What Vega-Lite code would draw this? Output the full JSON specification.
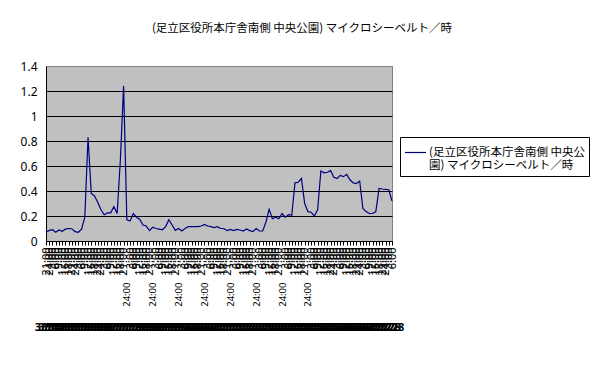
{
  "$schema": "https://vega.github.io/schema/vega-lite/v6.json",
  "width": 346,
  "height": 175,
  "autosize": {"type": "none"},
  "padding": {"left": 46, "top": 66, "right": 212, "bottom": 127},
  "background": "white",
  "title": {
    "text": "(足立区役所本庁舎南側 中央公園) マイクロシーベルト／時",
    "fontSize": 11.5,
    "font": "Noto Sans CJK JP",
    "fontWeight": "normal",
    "color": "black",
    "anchor": "middle",
    "dx": 83,
    "offset": 26
  },
  "data": {
    "values": [
      {"t": "3/14 21:00", "v": 0.07},
      {"t": "3/14 24:00", "v": 0.085},
      {"t": "3/15 3:00", "v": 0.09},
      {"t": "3/15 6:00", "v": 0.07},
      {"t": "3/15 9:00", "v": 0.088},
      {"t": "3/15 12:00", "v": 0.078},
      {"t": "3/15 15:00", "v": 0.095},
      {"t": "3/15 18:00", "v": 0.1},
      {"t": "3/15 21:00", "v": 0.098},
      {"t": "3/15 24:00", "v": 0.075},
      {"t": "3/16 3:00", "v": 0.07},
      {"t": "3/16 6:00", "v": 0.095},
      {"t": "3/16 9:00", "v": 0.19},
      {"t": "3/16 12:00", "v": 0.83},
      {"t": "3/16 15:00", "v": 0.38},
      {"t": "3/16 18:00", "v": 0.36},
      {"t": "3/16 21:00", "v": 0.31},
      {"t": "3/16 24:00", "v": 0.25},
      {"t": "3/17 3:00", "v": 0.21},
      {"t": "3/17 6:00", "v": 0.225},
      {"t": "3/17 9:00", "v": 0.225},
      {"t": "3/17 12:00", "v": 0.275},
      {"t": "3/17 15:00", "v": 0.22},
      {"t": "3/17 18:00", "v": 0.65},
      {"t": "3/17 21:00", "v": 1.24},
      {"t": "3/17 24:00", "v": 0.17},
      {"t": "3/18 3:00", "v": 0.16},
      {"t": "3/18 6:00", "v": 0.22},
      {"t": "3/18 9:00", "v": 0.19},
      {"t": "3/18 12:00", "v": 0.173},
      {"t": "3/18 15:00", "v": 0.128},
      {"t": "3/18 18:00", "v": 0.12},
      {"t": "3/18 21:00", "v": 0.083},
      {"t": "3/18 24:00", "v": 0.11},
      {"t": "3/19 3:00", "v": 0.1},
      {"t": "3/19 6:00", "v": 0.095},
      {"t": "3/19 9:00", "v": 0.09},
      {"t": "3/19 12:00", "v": 0.115},
      {"t": "3/19 15:00", "v": 0.17},
      {"t": "3/19 18:00", "v": 0.128},
      {"t": "3/19 21:00", "v": 0.085},
      {"t": "3/19 24:00", "v": 0.1},
      {"t": "3/20 3:00", "v": 0.08},
      {"t": "3/20 6:00", "v": 0.1},
      {"t": "3/20 9:00", "v": 0.115},
      {"t": "3/20 12:00", "v": 0.115},
      {"t": "3/20 15:00", "v": 0.115},
      {"t": "3/20 18:00", "v": 0.115},
      {"t": "3/20 21:00", "v": 0.12},
      {"t": "3/20 24:00", "v": 0.133},
      {"t": "3/21 3:00", "v": 0.12},
      {"t": "3/21 6:00", "v": 0.115},
      {"t": "3/21 9:00", "v": 0.107},
      {"t": "3/21 12:00", "v": 0.115},
      {"t": "3/21 15:00", "v": 0.1},
      {"t": "3/21 18:00", "v": 0.1},
      {"t": "3/21 21:00", "v": 0.083},
      {"t": "3/21 24:00", "v": 0.093},
      {"t": "3/22 3:00", "v": 0.083},
      {"t": "3/22 6:00", "v": 0.093},
      {"t": "3/22 9:00", "v": 0.088},
      {"t": "3/22 12:00", "v": 0.08},
      {"t": "3/22 15:00", "v": 0.096},
      {"t": "3/22 18:00", "v": 0.083},
      {"t": "3/22 21:00", "v": 0.075},
      {"t": "3/22 24:00", "v": 0.1},
      {"t": "3/23 3:00", "v": 0.08},
      {"t": "3/23 6:00", "v": 0.08},
      {"t": "3/23 9:00", "v": 0.15},
      {"t": "3/23 12:00", "v": 0.253},
      {"t": "3/23 15:00", "v": 0.178},
      {"t": "3/23 18:00", "v": 0.19},
      {"t": "3/23 21:00", "v": 0.178},
      {"t": "3/23 24:00", "v": 0.22},
      {"t": "3/24 3:00", "v": 0.19},
      {"t": "3/24 6:00", "v": 0.21},
      {"t": "3/24 9:00", "v": 0.205},
      {"t": "3/24 12:00", "v": 0.465},
      {"t": "3/24 15:00", "v": 0.47},
      {"t": "3/24 18:00", "v": 0.5},
      {"t": "3/24 21:00", "v": 0.3},
      {"t": "3/24 24:00", "v": 0.235},
      {"t": "3/25 3:00", "v": 0.23},
      {"t": "3/25 6:00", "v": 0.2},
      {"t": "3/25 9:00", "v": 0.25},
      {"t": "3/25 12:00", "v": 0.56},
      {"t": "3/25 15:00", "v": 0.545},
      {"t": "3/25 18:00", "v": 0.55},
      {"t": "3/25 21:00", "v": 0.563},
      {"t": "3/25 24:00", "v": 0.51},
      {"t": "3/26 3:00", "v": 0.5},
      {"t": "3/26 6:00", "v": 0.525},
      {"t": "3/26 9:00", "v": 0.515},
      {"t": "3/26 12:00", "v": 0.533},
      {"t": "3/26 15:00", "v": 0.49},
      {"t": "3/26 18:00", "v": 0.465},
      {"t": "3/26 21:00", "v": 0.46},
      {"t": "3/26 24:00", "v": 0.48},
      {"t": "3/27 3:00", "v": 0.26},
      {"t": "3/27 6:00", "v": 0.235},
      {"t": "3/27 9:00", "v": 0.22},
      {"t": "3/27 12:00", "v": 0.22},
      {"t": "3/27 15:00", "v": 0.235},
      {"t": "3/27 18:00", "v": 0.42},
      {"t": "3/27 21:00", "v": 0.416},
      {"t": "3/27 24:00", "v": 0.413},
      {"t": "3/28 3:00", "v": 0.41},
      {"t": "3/28 6:00", "v": 0.32}
    ]
  },
  "layer": [
    {
      "mark": {"type": "line", "color": "#000080", "strokeWidth": 1.2},
      "encoding": {
        "x": {
          "field": "t",
          "type": "ordinal",
          "sort": null,
          "scale": {"type": "point", "padding": 0},
          "axis": {
            "orient": "bottom",
            "title": null,
            "grid": false,
            "labelAngle": -90,
            "labelFontSize": {
              "condition": {
                "test": "indexof(['3/17 24:00','3/18 24:00','3/19 24:00','3/20 24:00','3/21 24:00','3/22 24:00','3/23 24:00','3/24 24:00'], datum.value) >= 0",
                "value": 9.5
              },
              "value": 11
            },
            "labelFont": "Noto Sans",
            "labelColor": "black",
            "labelOverlap": false,
            "labelExpr": "split(datum.value, ' ')[1]",
            "labelPadding": {
              "condition": {
                "test": "indexof(['3/17 24:00','3/18 24:00','3/19 24:00','3/20 24:00','3/21 24:00','3/22 24:00','3/23 24:00','3/24 24:00'], datum.value) >= 0",
                "value": 37
              },
              "value": 2
            },
            "tickColor": "black",
            "tickSize": 4,
            "domainColor": "black"
          }
        },
        "y": {
          "field": "v",
          "type": "quantitative",
          "scale": {"domain": [0, 1.4], "nice": false},
          "axis": {
            "title": null,
            "values": [0, 0.2, 0.4, 0.6, 0.8, 1, 1.2, 1.4],
            "format": "~g",
            "ticks": false,
            "labelPadding": 9,
            "labelFontSize": 12,
            "labelFont": "Noto Sans",
            "labelColor": "black",
            "domainColor": "black",
            "gridColor": {"condition": {"test": "datum.value >= 1.39", "value": "#808080"}, "value": "black"},
            "gridOpacity": 1,
            "gridWidth": 1
          }
        },
        "color": {
          "datum": "(足立区役所本庁舎南側 中央公園) マイクロシーベルト／時",
          "scale": {"range": ["#000080"]},
          "legend": {
            "orient": "none",
            "legendX": 354,
            "legendY": 71,
            "title": null,
            "strokeColor": "black",
            "fillColor": "white",
            "padding": 4,
            "labelFontSize": 11.5,
            "labelFont": "Noto Sans CJK JP",
            "labelColor": "black",
            "labelLimit": 400,
            "labelOffset": 2,
            "symbolType": "stroke",
            "symbolSize": 441,
            "symbolStrokeWidth": 1.2,
            "labelExpr": "['(足立区役所本庁舎南側 中央公', '園) マイクロシーベルト／時']"
          }
        }
      }
    },
    {
      "mark": {"type": "point", "opacity": 0},
      "encoding": {
        "x": {
          "field": "t",
          "type": "ordinal",
          "sort": null,
          "scale": {"type": "point", "padding": 0},
          "axis": {
            "orient": "bottom",
            "offset": 78,
            "title": null,
            "domain": false,
            "ticks": false,
            "grid": false,
            "labelAngle": 0,
            "labelFontSize": 11,
            "labelFont": "Noto Sans",
            "labelFontWeight": "bold",
            "labelColor": "black",
            "labelOverlap": false,
            "labelPadding": 2,
            "labelExpr": "split(datum.value, ' ')[0]"
          }
        }
      }
    }
  ],
  "resolve": {"scale": {"x": "independent"}, "axis": {"x": "independent"}},
  "config": {
    "view": {"stroke": "#808080", "fill": "#c0c0c0"},
    "font": "Noto Sans CJK JP"
  }
}
